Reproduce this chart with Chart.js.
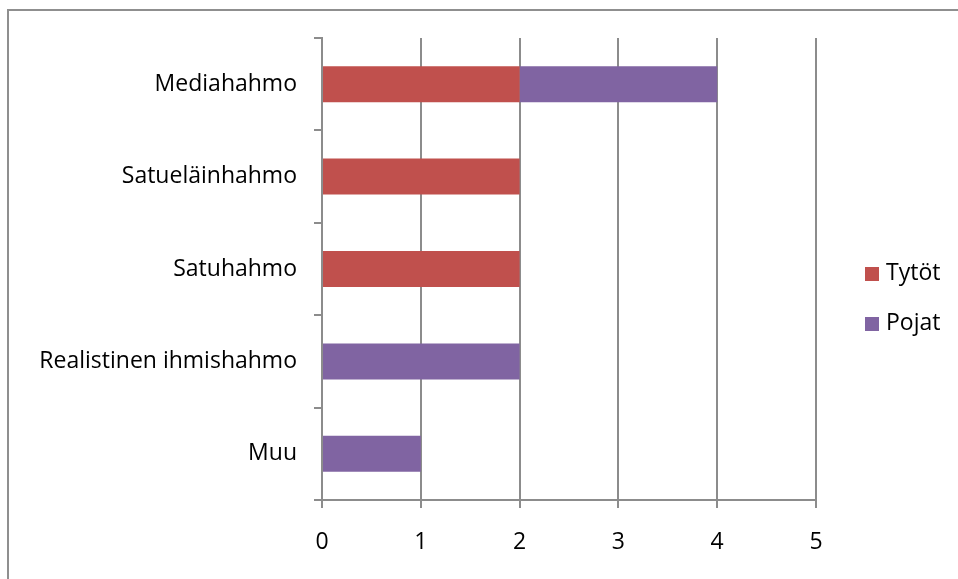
<!DOCTYPE html>
<html>
<head>
<meta charset="utf-8">
<script src="https://cdn.jsdelivr.net/npm/chart.js@4/dist/chart.umd.min.js"></script>
<style>
  html, body { margin: 0; padding: 0; background: #fff; }
  #wrap { position: relative; width: 958px; height: 579px; overflow: hidden; }
  #frame { position: absolute; left: 7px; top: 9px; width: 1000px; height: 700px;
           border-left: 2px solid #8f8f8f; border-top: 2px solid #8f8f8f; }
  canvas { position: absolute; left: 0; top: 0; }
</style>
</head>
<body>
<div id="wrap">
  <div id="frame"></div>
  <canvas id="c" width="958" height="579"></canvas>
</div>
<script>
const categories = ["Mediahahmo", "Satueläinhahmo", "Satuhahmo", "Realistinen ihmishahmo", "Muu"];
const tytot = [2, 2, 2, null, null];
const pojat = [2, null, null, 2, 1];
const xTicks = [0, 1, 2, 3, 4, 5];
const seriesNames = ["Tytöt", "Pojat"];
const seriesColors = ["#C0504D", "#8064A2"];

const FONT = "'Open Sans', sans-serif";
const FSIZE = 23;
const gridColor = "#8c8c8c";

const legendPlugin = {
  id: "sideLegend",
  afterDraw(chart) {
    const ctx = chart.ctx;
    ctx.save();
    chart.data.datasets.forEach((ds, i) => {
      const cy = 273 + i * 50;
      ctx.fillStyle = ds.backgroundColor;
      ctx.fillRect(865, cy - 6, 14, 14);
      ctx.fillStyle = "#000";
      ctx.font = FSIZE + "px " + FONT;
      ctx.textBaseline = "middle";
      ctx.textAlign = "left";
      ctx.fillText(ds.label, 886, cy);
    });
    ctx.restore();
  }
};

new Chart(document.getElementById("c"), {
  type: "bar",
  data: {
    labels: categories,
    datasets: [
      { label: seriesNames[0], data: tytot, backgroundColor: seriesColors[0] },
      { label: seriesNames[1], data: pojat, backgroundColor: seriesColors[1] }
    ]
  },
  options: {
    indexAxis: "y",
    responsive: false,
    animation: false,
    devicePixelRatio: 1,
    layout: { padding: { top: 38, right: 142, left: 0, bottom: 0 } },
    datasets: { bar: { barPercentage: 0.39, categoryPercentage: 1 } },
    plugins: { legend: { display: false }, tooltip: { enabled: false } },
    scales: {
      x: {
        stacked: true,
        min: 0, max: 5,
        afterBuildTicks(scale) { scale.ticks = xTicks.map(v => ({ value: v })); },
        afterFit(scale) { scale.height = 79; },
        grid: { color: gridColor, lineWidth: 2, tickLength: 8, drawOnChartArea: true },
        border: { color: gridColor, width: 2 },
        ticks: { color: "#000", font: { family: FONT, size: FSIZE }, padding: 21 }
      },
      y: {
        stacked: true,
        afterFit(scale) { scale.width = 322; },
        grid: { color: gridColor, lineWidth: 2, tickLength: 8, drawOnChartArea: false, offset: true },
        border: { color: gridColor, width: 2 },
        ticks: { color: "#000", font: { family: FONT, size: FSIZE }, padding: 17 }
      }
    }
  },
  plugins: [legendPlugin]
});
</script>
</body>
</html>
